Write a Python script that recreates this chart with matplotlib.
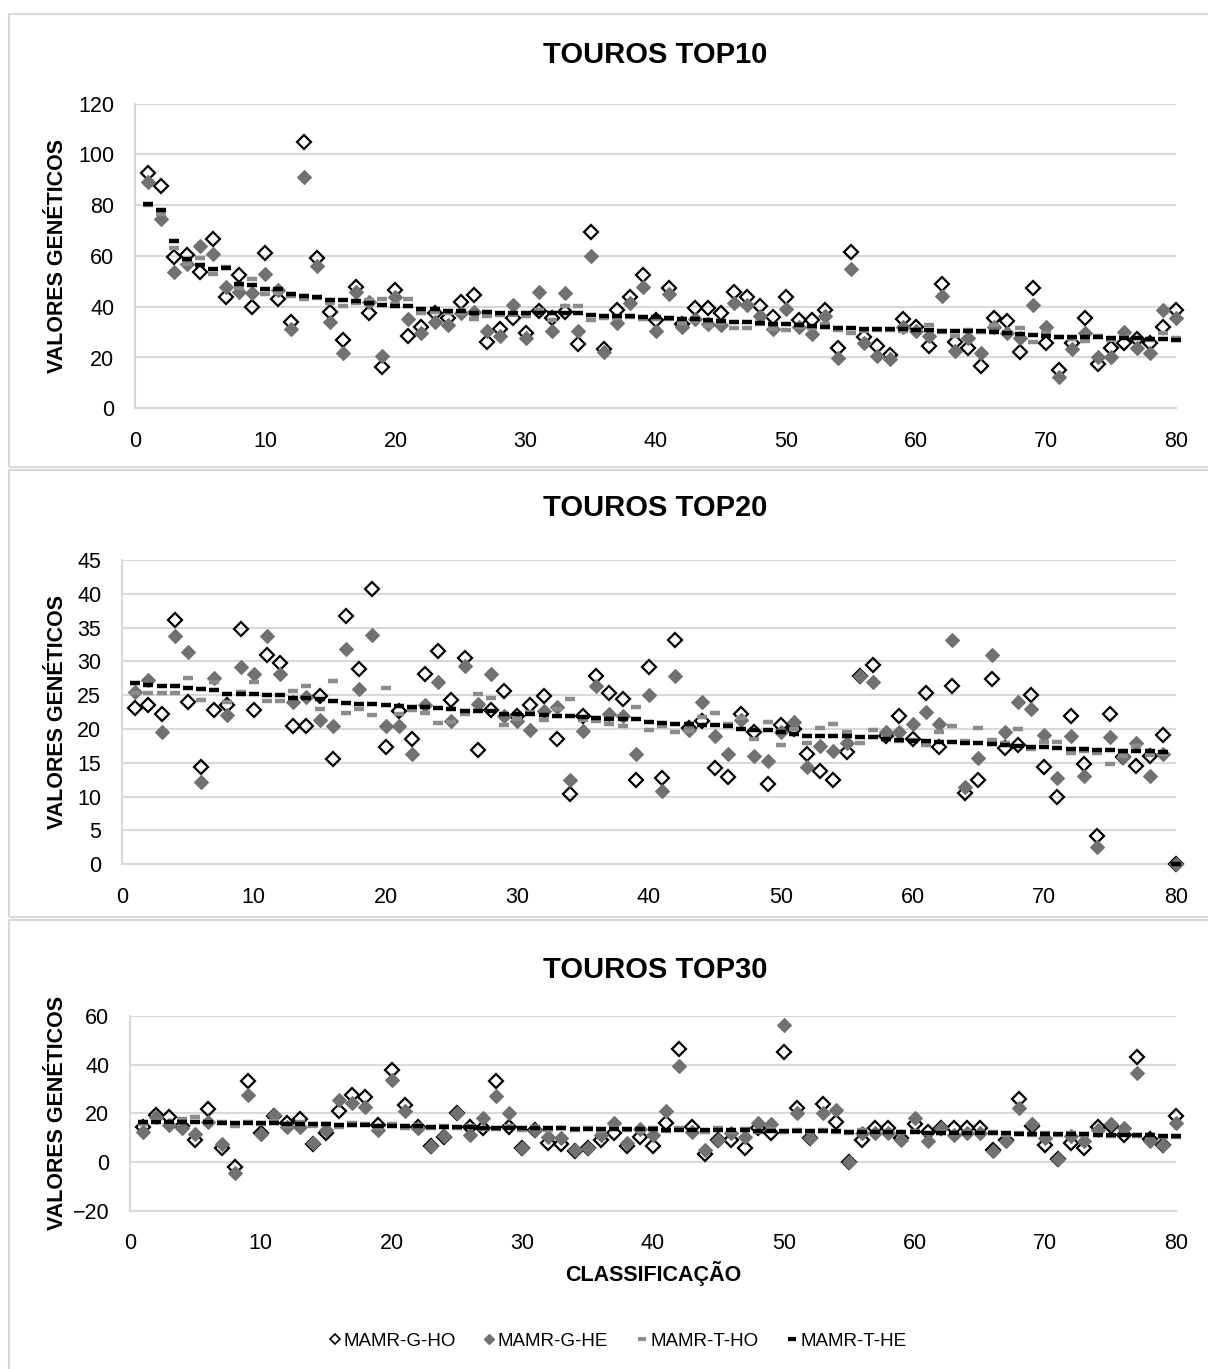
import numpy as np
import matplotlib
matplotlib.use('Agg')
import matplotlib.pyplot as plt
from matplotlib.lines import Line2D
from matplotlib.patches import Rectangle

plt.rcParams['font.family'] = ['Liberation Sans', 'DejaVu Sans']

# classificação (rank of the bull)
rank = np.arange(1, 81)

# ---------------- TOUROS TOP10 ----------------
top10_g_ho = [92.7, 87.5, 59.7, 60.3, 53.5, 66.5, 43.9, 52.5, 39.7, 61.0,
              43.0, 33.8, 104.9, 59.0, 38.0, 26.9, 47.9, 37.4, 16.4, 46.6,
              28.5, 32.1, 37.6, 35.7, 41.7, 44.6, 26.2, 31.1, 35.4, 29.5,
              38.4, 35.4, 38.0, 25.2, 69.5, 23.2, 38.7, 43.9, 52.5, 34.8,
              47.2, 33.0, 39.3, 39.3, 37.4, 45.9, 43.9, 40.4, 36.1, 43.7,
              34.8, 34.8, 38.7, 23.6, 61.6, 28.2, 24.5, 21.0, 35.0, 32.1,
              24.5, 48.9, 26.2, 23.6, 16.7, 35.4, 34.5, 22.3, 47.2, 25.8,
              15.1, 25.6, 35.7, 17.4, 23.6, 25.6, 27.1, 25.6, 32.1, 38.7]
top10_g_he = [89.2, 74.4, 53.8, 56.8, 64.0, 60.6, 47.9, 45.6, 45.5, 52.9,
              46.6, 31.3, 90.9, 56.0, 34.1, 21.9, 45.6, 41.7, 20.7, 43.7,
              35.0, 29.8, 33.8, 32.8, 37.6, 38.0, 30.6, 28.5, 40.7, 27.5,
              45.9, 30.6, 45.2, 30.6, 59.9, 22.3, 33.7, 41.6, 47.6, 30.6,
              45.0, 31.9, 35.0, 33.2, 32.8, 41.3, 40.7, 36.5, 31.2, 39.0,
              31.9, 29.2, 36.3, 19.7, 54.8, 25.6, 20.7, 19.3, 32.1, 30.6,
              28.5, 44.2, 22.7, 27.5, 21.6, 32.1, 29.5, 27.5, 40.7, 32.1,
              12.5, 23.2, 29.8, 20.3, 20.3, 30.2, 23.6, 21.6, 38.7, 35.7]
top10_t_ho = [80.0, 76.5, 63.0, 57.0, 59.0, 52.7, 55.6, 47.5, 51.1, 44.9,
              45.5, 44.3, 42.9, 43.3, 41.3, 40.3, 41.6, 42.6, 42.9, 40.9,
              43.1, 37.6, 37.8, 37.5, 37.6, 35.0, 36.5, 36.8, 36.7, 36.3,
              38.7, 34.8, 40.3, 40.3, 34.8, 35.4, 35.5, 36.1, 35.0, 35.2,
              35.0, 33.4, 34.2, 32.4, 33.5, 31.7, 31.7, 33.0, 31.2, 30.8,
              32.0, 31.5, 33.0, 31.0, 29.5, 30.5, 30.8, 31.0, 30.5, 31.0,
              32.8, 30.0, 28.5, 30.8, 30.0, 32.8, 30.0, 31.7, 26.2, 29.5,
              28.0, 27.1, 26.5, 28.5, 27.0, 28.2, 27.5, 26.8, 29.5, 27.5]
top10_t_he = [80.3, 77.9, 66.0, 58.6, 56.4, 54.8, 55.3, 48.9, 48.5, 47.0,
              46.8, 44.9, 44.2, 43.9, 42.6, 42.6, 42.2, 41.6, 40.7, 40.3,
              40.3, 39.1, 39.1, 38.4, 38.3, 37.6, 38.0, 37.6, 37.6, 37.4,
              37.6, 37.6, 37.6, 37.4, 36.7, 36.5, 36.5, 36.5, 36.1, 35.8,
              35.5, 35.0, 35.0, 34.8, 34.4, 34.1, 33.8, 33.4, 33.0, 33.0,
              32.7, 32.4, 32.1, 31.8, 31.5, 31.2, 31.2, 31.1, 31.1, 31.0,
              30.8, 30.6, 30.6, 30.6, 30.6, 30.2, 29.5, 29.1, 28.9, 28.5,
              28.2, 28.2, 28.2, 27.9, 27.8, 27.5, 27.5, 27.3, 27.1, 26.9]

# ---------------- TOUROS TOP20 ----------------
top20_g_ho = [23.1, 23.6, 22.2, 36.1, 24.0, 14.4, 22.8, 23.5, 34.8, 22.8,
              31.0, 29.8, 20.5, 20.5, 24.9, 15.5, 36.7, 28.9, 40.7, 17.4,
              22.7, 18.6, 28.2, 31.5, 24.3, 30.5, 16.9, 22.8, 25.6, 22.0,
              23.6, 24.9, 18.6, 10.4, 22.0, 27.8, 25.3, 24.5, 12.5, 29.2,
              12.8, 33.1, 20.2, 21.2, 14.3, 12.9, 22.3, 19.6, 11.9, 20.6,
              20.0, 16.3, 13.8, 12.5, 16.6, 27.8, 29.4, 18.9, 21.9, 18.6,
              25.4, 17.4, 26.4, 10.5, 12.5, 27.4, 17.2, 17.6, 25.0, 14.4,
              9.9, 21.9, 14.9, 4.2, 22.2, 15.9, 14.6, 16.0, 19.1, 0.0]
top20_g_he = [25.5, 27.3, 19.5, 33.7, 31.4, 12.1, 27.6, 22.1, 29.2, 28.2,
              33.8, 28.2, 24.0, 24.8, 21.3, 20.4, 31.8, 25.9, 33.9, 20.5,
              20.4, 16.3, 23.6, 27.0, 21.2, 29.3, 23.7, 28.1, 22.0, 21.2,
              19.9, 22.6, 23.2, 12.5, 19.7, 26.3, 22.3, 21.9, 16.3, 25.1,
              10.9, 27.9, 19.9, 24.0, 19.0, 16.3, 21.3, 16.0, 15.3, 19.6,
              21.0, 14.4, 17.5, 16.8, 18.0, 27.8, 26.9, 19.6, 19.5, 20.7,
              22.5, 20.7, 33.2, 11.4, 15.7, 31.0, 19.6, 24.0, 22.9, 19.1,
              12.8, 19.0, 13.0, 2.5, 18.8, 15.9, 18.0, 13.0, 16.3, 0.0]
top20_t_ho = [25.4, 25.4, 25.4, 25.4, 27.6, 24.3, 27.0, 24.0, 25.5, 27.0,
              24.2, 24.2, 25.6, 26.3, 22.9, 27.1, 22.4, 23.0, 22.1, 26.1,
              22.3, 22.8, 22.4, 20.9, 21.1, 22.3, 25.2, 24.6, 20.6, 21.5,
              22.5, 21.3, 23.0, 24.5, 21.3, 21.2, 20.8, 20.4, 23.2, 19.9,
              20.5, 19.6, 19.7, 21.8, 22.4, 20.8, 21.7, 18.5, 21.1, 17.6,
              20.0, 17.9, 20.1, 20.7, 19.6, 17.9, 19.8, 18.5, 18.3, 18.4,
              17.7, 19.5, 20.5, 18.2, 20.1, 18.4, 18.0, 20.0, 17.0, 18.1,
              18.1, 16.5, 16.7, 16.5, 14.9, 16.0, 17.5, 16.2, 16.3, 0.0]
top20_t_he = [26.8, 26.5, 26.4, 26.3, 26.1, 25.9, 25.8, 25.2, 25.2, 25.2,
              25.1, 25.0, 24.6, 24.6, 24.5, 24.1, 23.9, 23.7, 23.7, 23.6,
              23.4, 23.3, 23.2, 23.1, 22.9, 22.7, 22.6, 22.6, 22.3, 22.2,
              22.2, 22.1, 22.0, 21.9, 21.8, 21.6, 21.5, 21.5, 21.5, 21.0,
              20.9, 20.8, 20.7, 20.6, 20.6, 20.4, 20.0, 19.9, 19.8, 19.6,
              19.2, 19.0, 19.0, 19.0, 18.9, 18.8, 18.8, 18.5, 18.4, 18.3,
              18.2, 18.1, 18.1, 17.9, 17.9, 17.8, 17.7, 17.5, 17.4, 17.3,
              17.2, 17.1, 17.0, 16.9, 16.9, 16.8, 16.8, 16.7, 16.6, 0.0]

# ---------------- TOUROS TOP30 ----------------
top30_g_ho = [14.6, 19.4, 18.4, 15.0, 9.1, 21.7, 6.0, -1.8, 33.3, 12.0,
              19.0, 16.0, 17.7, 7.5, 11.9, 21.0, 27.5, 26.9, 15.3, 37.8,
              23.5, 14.5, 6.5, 10.5, 20.0, 14.3, 13.9, 33.4, 14.6, 6.0,
              13.0, 7.8, 7.5, 4.5, 6.0, 9.1, 12.1, 6.8, 10.5, 6.8,
              16.0, 46.2, 14.6, 3.4, 9.0, 9.1, 5.7, 13.9, 11.9, 45.3,
              22.1, 10.0, 23.9, 16.6, 0.0, 9.1, 13.9, 13.9, 10.0, 15.7,
              12.5, 14.0, 13.9, 13.9, 13.9, 5.0, 9.0, 25.8, 15.0, 7.1,
              1.5, 8.0, 6.0, 14.3, 15.0, 11.2, 43.0, 9.5, 7.0, 19.1]
top30_g_he = [12.5, 18.7, 15.3, 13.9, 11.5, 16.6, 7.5, -4.5, 27.5, 11.6,
              19.4, 14.6, 14.6, 7.8, 13.2, 25.5, 24.1, 22.8, 13.2, 33.7,
              21.0, 14.2, 6.8, 10.8, 20.0, 11.2, 18.0, 27.1, 20.3, 6.0,
              13.2, 10.5, 10.1, 4.8, 6.0, 11.2, 16.0, 8.0, 13.5, 11.2,
              21.0, 39.4, 12.5, 5.0, 9.1, 11.9, 10.5, 16.0, 15.7, 56.2,
              20.0, 9.8, 20.3, 21.4, 0.0, 11.9, 11.9, 11.9, 9.1, 18.0,
              8.7, 14.2, 11.2, 12.1, 12.1, 4.4, 8.5, 22.1, 15.7, 9.8,
              1.2, 10.8, 8.5, 13.2, 15.7, 13.9, 36.4, 8.5, 7.1, 16.0]
top30_t_ho = [15.5, 17.0, 16.0, 17.5, 18.7, 17.0, 16.5, 15.0, 16.5, 15.5,
              16.8, 15.0, 16.5, 14.8, 15.8, 14.5, 16.0, 15.8, 14.0, 15.5,
              14.0, 15.2, 14.0, 15.0, 13.8, 14.8, 13.5, 13.5, 14.8, 13.0,
              14.5, 13.2, 14.2, 13.0, 14.0, 12.8, 14.0, 13.0, 12.8, 14.0,
              12.6, 13.8, 13.0, 12.5, 13.8, 12.5, 13.5, 12.4, 13.4, 12.2,
              13.2, 12.2, 13.0, 12.5, 12.0, 13.0, 11.8, 12.8, 11.8, 12.6,
              11.6, 12.5, 11.5, 12.5, 11.5, 12.2, 11.3, 12.0, 11.2, 12.0,
              11.0, 11.8, 11.0, 11.5, 10.8, 11.5, 10.8, 11.0, 10.5, 10.5]
top30_t_he = [16.4, 16.6, 16.5, 16.4, 16.4, 16.4, 16.2, 16.2, 16.0, 16.0,
              15.9, 15.8, 15.7, 15.5, 15.5, 15.3, 15.2, 15.1, 14.9, 14.8,
              14.8, 14.7, 14.6, 14.5, 14.4, 14.3, 14.2, 14.1, 14.0, 13.9,
              13.9, 13.8, 13.8, 13.7, 13.6, 13.6, 13.5, 13.5, 13.4, 13.4,
              13.3, 13.3, 13.2, 13.2, 13.1, 13.0, 13.0, 12.9, 12.9, 12.8,
              12.8, 12.7, 12.7, 12.6, 12.5, 12.4, 12.4, 12.3, 12.2, 12.2,
              12.1, 12.1, 12.0, 12.0, 11.9, 11.8, 11.8, 11.7, 11.7, 11.6,
              11.5, 11.5, 11.4, 11.3, 11.3, 11.2, 11.1, 11.0, 10.9, 10.8]

labels = ['MAMR-G-HO', 'MAMR-G-HE', 'MAMR-T-HO', 'MAMR-T-HE']
titles = ['TOUROS TOP10', 'TOUROS TOP20', 'TOUROS TOP30']
ylims = [(0, 120, 20), (0, 45, 5), (-20, 60, 20)]

W, H = 1208, 1369
fig = plt.figure(figsize=(W / 100, H / 100), dpi=100)

def fx(px):
    return px / W

def fy(py):
    return 1 - py / H

grid_c = '#d9d9d9'
filled_c = '#737070'
tho_c = '#8c8c8c'

# chart boxes (three excel charts stacked)
for top, bot in [(13.5, 467), (470, 917), (920, 1380)]:
    fig.patches.append(Rectangle((fx(9), fy(bot)), fx(1300) - fx(9), fy(top) - fy(bot),
                                 transform=fig.transFigure, fill=False,
                                 edgecolor=grid_c, lw=1.5))

# plot areas in pixels: left, right, top, bottom
areas = [(135.3, 1176, 103.5, 408.3),
         (122, 1176, 560, 864.3),
         (130, 1176, 1015.7, 1211)]
title_y = [55, 508, 970]

data = [(top10_g_ho, top10_g_he, top10_t_ho, top10_t_he),
        (top20_g_ho, top20_g_he, top20_t_ho, top20_t_he),
        (top30_g_ho, top30_g_he, top30_t_ho, top30_t_he)]

for k in range(3):
    l, r, t, b = areas[k]
    ax = fig.add_axes([fx(l), fy(b), fx(r) - fx(l), fy(t) - fy(b)])
    g_ho, g_he, t_ho, t_he = data[k]

    ax.plot(rank, g_ho, ls='none', marker='D', ms=6.8, mfc='none', mec='black',
            mew=1.6, clip_on=False, zorder=3)
    ax.plot(rank, g_he, ls='none', marker='D', ms=6.8, mfc=filled_c, mec=filled_c,
            mew=0.8, clip_on=False, zorder=4)
    ax.plot(rank, t_ho, ls='none', marker='_', ms=7.8, mec=tho_c, mew=3.2,
            clip_on=False, zorder=5)
    ax.plot(rank, t_he, ls='none', marker='_', ms=7.8, mec='black', mew=3.2,
            clip_on=False, zorder=6)

    lo, hi, st = ylims[k]
    ax.set_xlim(0, 80)
    ax.set_ylim(lo, hi)
    ax.set_xticks(range(0, 81, 10))
    ax.set_yticks(range(lo, hi + 1, st))
    ax.yaxis.grid(True, color=grid_c, lw=1.5)
    ax.set_axisbelow(True)
    for s in ['top', 'right']:
        ax.spines[s].set_visible(False)
    for s in ['left', 'bottom']:
        ax.spines[s].set_color(grid_c)
        ax.spines[s].set_linewidth(1.5)
    ax.tick_params(axis='both', length=0, labelsize=15.5, colors='black')
    ax.tick_params(axis='y', pad=15)
    ax.tick_params(axis='x', pad=16)

    fig.text(fx(655), fy(title_y[k]), titles[k], ha='center', va='center',
             fontsize=21, fontweight='bold')
    fig.text(fx(58), fy((t + b) / 2), 'VALORES GENÉTICOS', rotation=90,
             ha='center', va='center', fontsize=15.5, fontweight='bold')

fig.text(fx(653), fy(1274), 'CLASSIFICAÇÃO', ha='center', va='center',
         fontsize=15.5, fontweight='bold')

handles = [
    Line2D([], [], ls='none', marker='D', ms=5.5, mfc='none', mec='black', mew=1.2),
    Line2D([], [], ls='none', marker='D', ms=5.5, mfc=filled_c, mec=filled_c),
    Line2D([], [], ls='none', marker='_', ms=6, mec=tho_c, mew=3),
    Line2D([], [], ls='none', marker='_', ms=6, mec='black', mew=3),
]
fig.legend(handles, labels, loc='center', bbox_to_anchor=(fx(618), fy(1341)),
           ncol=4, frameon=False, fontsize=13.5, handlelength=0.6,
           handletextpad=0.15, columnspacing=1.5)

fig.savefig('out.png', dpi=100)
